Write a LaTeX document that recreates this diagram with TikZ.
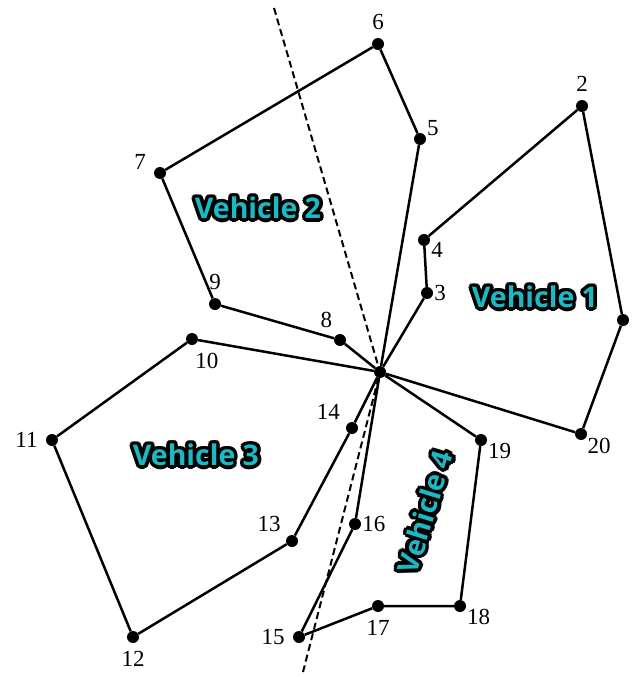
\documentclass[tikz,border=0pt]{standalone}
\usepackage{fontspec}
\setmainfont{Liberation Serif}
\newfontfamily\vehfont{Open Sans}
\usetikzlibrary{positioning,calc}
\definecolor{vehcyan}{RGB}{28,184,196}
\tikzset{
  dot/.style={circle,fill=black,inner sep=0pt,minimum size=12pt},
  lbl/.style={font=\fontsize{23}{23}\selectfont,inner sep=1pt},
  lblnear/.style={lbl,label distance=0pt},
  route/.style={line width=2.5pt},
  split/.style={line width=2pt,dash pattern=on 7pt off 4pt},
  veh/.style={font=\vehfont\bfseries\fontsize{28.5}{28.5}\selectfont,inner sep=0pt},
}
% vehicle tag: name, position, rotation, text
\newcommand{\vehtag}[4]{%
  \foreach \a in {0,30,...,330}
    \node[veh,text=black,rotate=#3] (#1o\a) at ($(#2)+(\a:3.6)$) {#4};
  \node[veh,text=vehcyan,rotate=#3] (#1) at (#2) {#4};
}

\begin{document}
\begin{tikzpicture}[x=1pt,y=-1pt,label distance=7pt]
  \useasboundingbox (0,0) rectangle (632,677);
  % depot and customers
  \node[dot] (d) at (380,372) {};
  \node[dot] (p1) at (623,320) {};
  \node[dot,label={[lbl]90:2}] (p2) at (582,106) {};
  \node[dot,label={[lblnear]0:3}] (p3) at (427,293) {};
  \node[dot,label={[lblnear]-10:4}] (p4) at (424,240) {};
  \node[dot,label={[lblnear]20:5}] (p5) at (420,139) {};
  \node[dot,label={[lbl]90:6}] (p6) at (378,44) {};
  \node[dot,label={[lbl]170:7}] (p7) at (160,173) {};
  \node[dot,label={[lbl]120:8}] (p8) at (340,340) {};
  \node[dot,label={[lbl]90:9}] (p9) at (215,304) {};
  \node[dot,label={[lbl]-80:10}] (p10) at (192,339) {};
  \node[dot,label={[lbl]180:11}] (p11) at (52,440) {};
  \node[dot,label={[lbl]-90:12}] (p12) at (133,637) {};
  \node[dot,label={[lbl]140:13}] (p13) at (292,541) {};
  \node[dot,label={[lbl]145:14}] (p14) at (352,428) {};
  \node[dot,label={[lbl]180:15}] (p15) at (299,637) {};
  \node[dot,label={[lblnear]0:16}] (p16) at (355,524) {};
  \node[dot,label={[lbl]-90:17}] (p17) at (378,606) {};
  \node[dot,label={[lblnear]-20:18}] (p18) at (460,606) {};
  \node[dot,label={[lblnear]-15:19}] (p19) at (481,440) {};
  \node[dot,label={[lblnear]-30:20}] (p20) at (581,434) {};
  % dividing line
  \coordinate (top) at (274,8);
  \coordinate (bot) at (303,672);
  \draw[split] (top) -- (d.center) -- (bot);
  % routes
  \draw[route] (d) -- (p3) -- (p4) -- (p2) -- (p1) -- (p20) -- (d);
  \draw[route] (d) -- (p8) -- (p9) -- (p7) -- (p6) -- (p5) -- (d);
  \draw[route] (d) -- (p10) -- (p11) -- (p12) -- (p13) -- (p14) -- (d);
  \draw[route] (d) -- (p16) -- (p15) -- (p17) -- (p18) -- (p19) -- (d);
  % vehicle tags
  \vehtag{v1}{535,297}{0}{Vehicle 1}
  \vehtag{v2}{258,208}{0}{Vehicle 2}
  \vehtag{v3}{196,455}{0}{Vehicle 3}
  \vehtag{v4}{425,512}{73}{Vehicle 4}
\end{tikzpicture}
\end{document}
